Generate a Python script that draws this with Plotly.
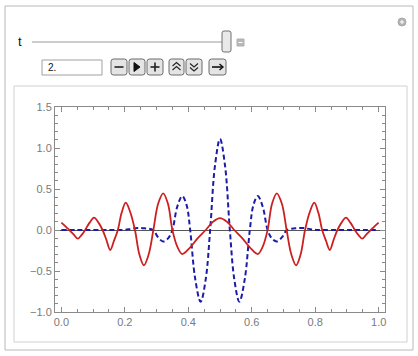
import plotly.graph_objects as go

# ---- data ----
red_x = [0.000, 0.013, 0.026, 0.040, 0.052, 0.064, 0.075, 0.089, 0.103, 0.117, 0.130, 0.142,
         0.154, 0.166, 0.178, 0.190, 0.203, 0.217, 0.232, 0.246, 0.260, 0.275, 0.290, 0.305,
         0.321, 0.336, 0.350, 0.365, 0.381, 0.404, 0.430, 0.455, 0.478, 0.500, 0.522, 0.545,
         0.570, 0.596, 0.619, 0.635, 0.650, 0.664, 0.679, 0.695, 0.710, 0.725, 0.740, 0.754,
         0.768, 0.783, 0.797, 0.810, 0.822, 0.834, 0.846, 0.858, 0.870, 0.883, 0.897, 0.911,
         0.925, 0.936, 0.948, 0.960, 0.974, 0.987, 1.000]
red_y = [0.09, 0.045, -0.005, -0.06, -0.106, -0.06, 0.00, 0.09, 0.15, 0.09, 0.00, -0.12,
         -0.244, -0.13, 0.00, 0.21, 0.333, 0.22, 0.00, -0.30, -0.43, -0.30, 0.00, 0.32,
         0.447, 0.32, 0.00, -0.20, -0.293, -0.22, -0.10, 0.00, 0.10, 0.145, 0.10, 0.00,
         -0.10, -0.22, -0.293, -0.20, 0.00, 0.32, 0.447, 0.32, 0.00, -0.30, -0.43, -0.30,
         0.00, 0.22, 0.333, 0.21, 0.00, -0.13, -0.244, -0.12, 0.00, 0.09, 0.15, 0.09,
         0.00, -0.06, -0.106, -0.06, -0.005, 0.045, 0.09]

blue_x = [0.00, 0.05, 0.10, 0.15, 0.19, 0.215, 0.240, 0.262, 0.289, 0.305, 0.321, 0.337,
          0.350, 0.365, 0.381, 0.395, 0.406, 0.422, 0.439, 0.455, 0.469, 0.484, 0.500,
          0.516, 0.531, 0.545, 0.561, 0.578, 0.594, 0.605, 0.619, 0.635, 0.650, 0.663,
          0.679, 0.695, 0.711, 0.738, 0.760, 0.785, 0.81, 0.85, 0.90, 0.95, 1.00]
blue_y = [0.0, 0.0, 0.0, 0.0, 0.0, 0.01, 0.025, 0.02, 0.0, -0.09, -0.14, -0.10,
          0.0, 0.28, 0.415, 0.30, 0.0, -0.60, -0.875, -0.60, 0.0, 0.78, 1.11,
          0.78, 0.0, -0.60, -0.875, -0.60, 0.0, 0.30, 0.415, 0.28, 0.0, -0.10,
          -0.14, -0.09, 0.0, 0.02, 0.025, 0.01, 0.0, 0.0, 0.0, 0.0, 0.0]

x_ticks = [0.0, 0.2, 0.4, 0.6, 0.8, 1.0]
y_ticks = [-1.0, -0.5, 0.0, 0.5, 1.0, 1.5]
slider_label = "t"
value_text = "2."

W, H = 418, 356
L, R, T, B = 55, 33, 107, 44
PW, PH = W - L - R, H - T - B


def px(x):
    return (x - L) / PW


def py(y):
    return (H - B - y) / PH


fig = go.Figure()
fig.add_trace(go.Scatter(x=blue_x, y=blue_y, mode="lines",
                         line=dict(color="#1c1ca8", width=2, dash="5px,3px", shape="spline", smoothing=1.0),
                         hoverinfo="skip", showlegend=False))
fig.add_trace(go.Scatter(x=red_x, y=red_y, mode="lines",
                         line=dict(color="#cc2020", width=1.8, shape="spline", smoothing=1.0),
                         hoverinfo="skip", showlegend=False))

shapes = []
annotations = []


def rect(x0, y0, x1, y1, line="#b4b4b4", fill="rgba(0,0,0,0)", width=1):
    shapes.append(dict(type="rect", xref="paper", yref="paper",
                       x0=px(x0), x1=px(x1), y0=py(y1), y1=py(y0),
                       line=dict(color=line, width=width), fillcolor=fill, layer="below"))


def rrect(x0, y0, x1, y1, r=2, line="#6e6e6e", fill="#e6e6e6", width=1):
    p = (f"M {px(x0+r)},{py(y0)} L {px(x1-r)},{py(y0)} Q {px(x1)},{py(y0)} {px(x1)},{py(y0+r)} "
         f"L {px(x1)},{py(y1-r)} Q {px(x1)},{py(y1)} {px(x1-r)},{py(y1)} "
         f"L {px(x0+r)},{py(y1)} Q {px(x0)},{py(y1)} {px(x0)},{py(y1-r)} "
         f"L {px(x0)},{py(y0+r)} Q {px(x0)},{py(y0)} {px(x0+r)},{py(y0)} Z")
    shapes.append(dict(type="path", xref="paper", yref="paper", path=p,
                       line=dict(color=line, width=width), fillcolor=fill, layer="above"))


def path(pts, color="#222222", width=1.2, fill=None, closed=False):
    d = "M " + " L ".join(f"{px(a)},{py(b)}" for a, b in pts)
    if closed:
        d += " Z"
    shapes.append(dict(type="path", xref="paper", yref="paper", path=d,
                       line=dict(color=color, width=width),
                       fillcolor=fill if fill else "rgba(0,0,0,0)", layer="above"))


# outer and inner panels
rect(5, 6, 413, 350, line="#b8b8b8")
rect(14, 86, 407, 342, line="#d0d0d0")

# slider
path([(32, 42), (222, 42)], color="#9a9a9a", width=1)
rrect(222, 31, 231, 52, r=2, line="#707070", fill="#e9e9e9")
rect(237, 39, 244, 46, line="#b0b0b0", fill="#b8b8b8")
path([(238.5, 42.5), (242.5, 42.5)], color="#ffffff", width=1)
annotations.append(dict(text=slider_label, x=px(20), y=py(42), xref="paper", yref="paper",
                        showarrow=False, xanchor="center", yanchor="middle",
                        font=dict(family="Liberation Sans", size=13, color="#111111")))

# plus circle icon top right
shapes.append(dict(type="circle", xref="paper", yref="paper",
                   x0=px(398), x1=px(406), y0=py(26), y1=py(18),
                   line=dict(color="#a8a8a8", width=1), fillcolor="#b4b4b4", layer="above"))
path([(400, 22), (404, 22)], color="#ffffff", width=1)
path([(402, 20), (402, 24)], color="#ffffff", width=1)

# input field
rect(42, 60, 102, 75, line="#a0a0a0", fill="#ffffff")
annotations.append(dict(text=value_text, x=px(46), y=py(67.5), xref="paper", yref="paper",
                        showarrow=False, xanchor="left", yanchor="middle",
                        font=dict(family="Liberation Sans", size=10, color="#111111")))

# buttons
btns = [(111, 127), (129, 145), (147, 163), (169, 184), (186, 202), (209, 226)]
for a, b in btns:
    rrect(a, 59, b, 75, r=2.5, line="#6a6a6a", fill="#e4e4e4")
# minus
path([(114.5, 67), (123.5, 67)], color="#222222", width=1.6)
# play
path([(134, 62.5), (134, 71.5), (140, 67)], color="#111111", width=1, fill="#111111", closed=True)
# plus
path([(150.5, 67), (159.5, 67)], color="#222222", width=1.6)
path([(155, 62.5), (155, 71.5)], color="#222222", width=1.6)
# faster (double up chevron)
path([(172.5, 66), (176.5, 62.5), (180.5, 66)], color="#222222", width=1.1)
path([(172.5, 70), (176.5, 66.5), (180.5, 70)], color="#222222", width=1.1)
# slower (double down chevron)
path([(190, 63.5), (194, 67), (198, 63.5)], color="#222222", width=1.1)
path([(190, 67.5), (194, 71), (198, 67.5)], color="#222222", width=1.1)
# direction arrow
path([(212, 67), (223, 67)], color="#111111", width=1.6)
path([(219.5, 64), (223, 67), (219.5, 70)], color="#111111", width=1.4)

axis_font = dict(family="Liberation Sans", size=11, color="#7a7a7a")
common = dict(showline=True, linecolor="#8a8a8a", linewidth=1, mirror="allticks",
              ticks="inside", tickcolor="#8a8a8a", tickwidth=1, showgrid=False,
              tickfont=axis_font)

fig.update_layout(
    width=W, height=H,
    margin=dict(l=L, r=R, t=T, b=B),
    paper_bgcolor="#ffffff", plot_bgcolor="#ffffff",
    shapes=shapes, annotations=annotations,
    xaxis=dict(range=[-0.02, 1.02], tickvals=x_ticks, ticktext=[f"{v:.1f}" for v in x_ticks],
               ticklen=5, zeroline=False,
               minor=dict(dtick=0.05, tick0=0, ticks="inside", ticklen=3, tickcolor="#8a8a8a", showgrid=False),
               **common),
    yaxis=dict(range=[-1.0, 1.5], tickvals=y_ticks,
               ticktext=[("\u2212" if v < 0 else "") + f"{abs(v):.1f}" for v in y_ticks],
               ticklen=5, zeroline=True, zerolinecolor="#555555", zerolinewidth=1,
               minor=dict(dtick=0.1, tick0=0, ticks="inside", ticklen=3, tickcolor="#8a8a8a", showgrid=False),
               **common),
)

fig.write_html("out.html")
